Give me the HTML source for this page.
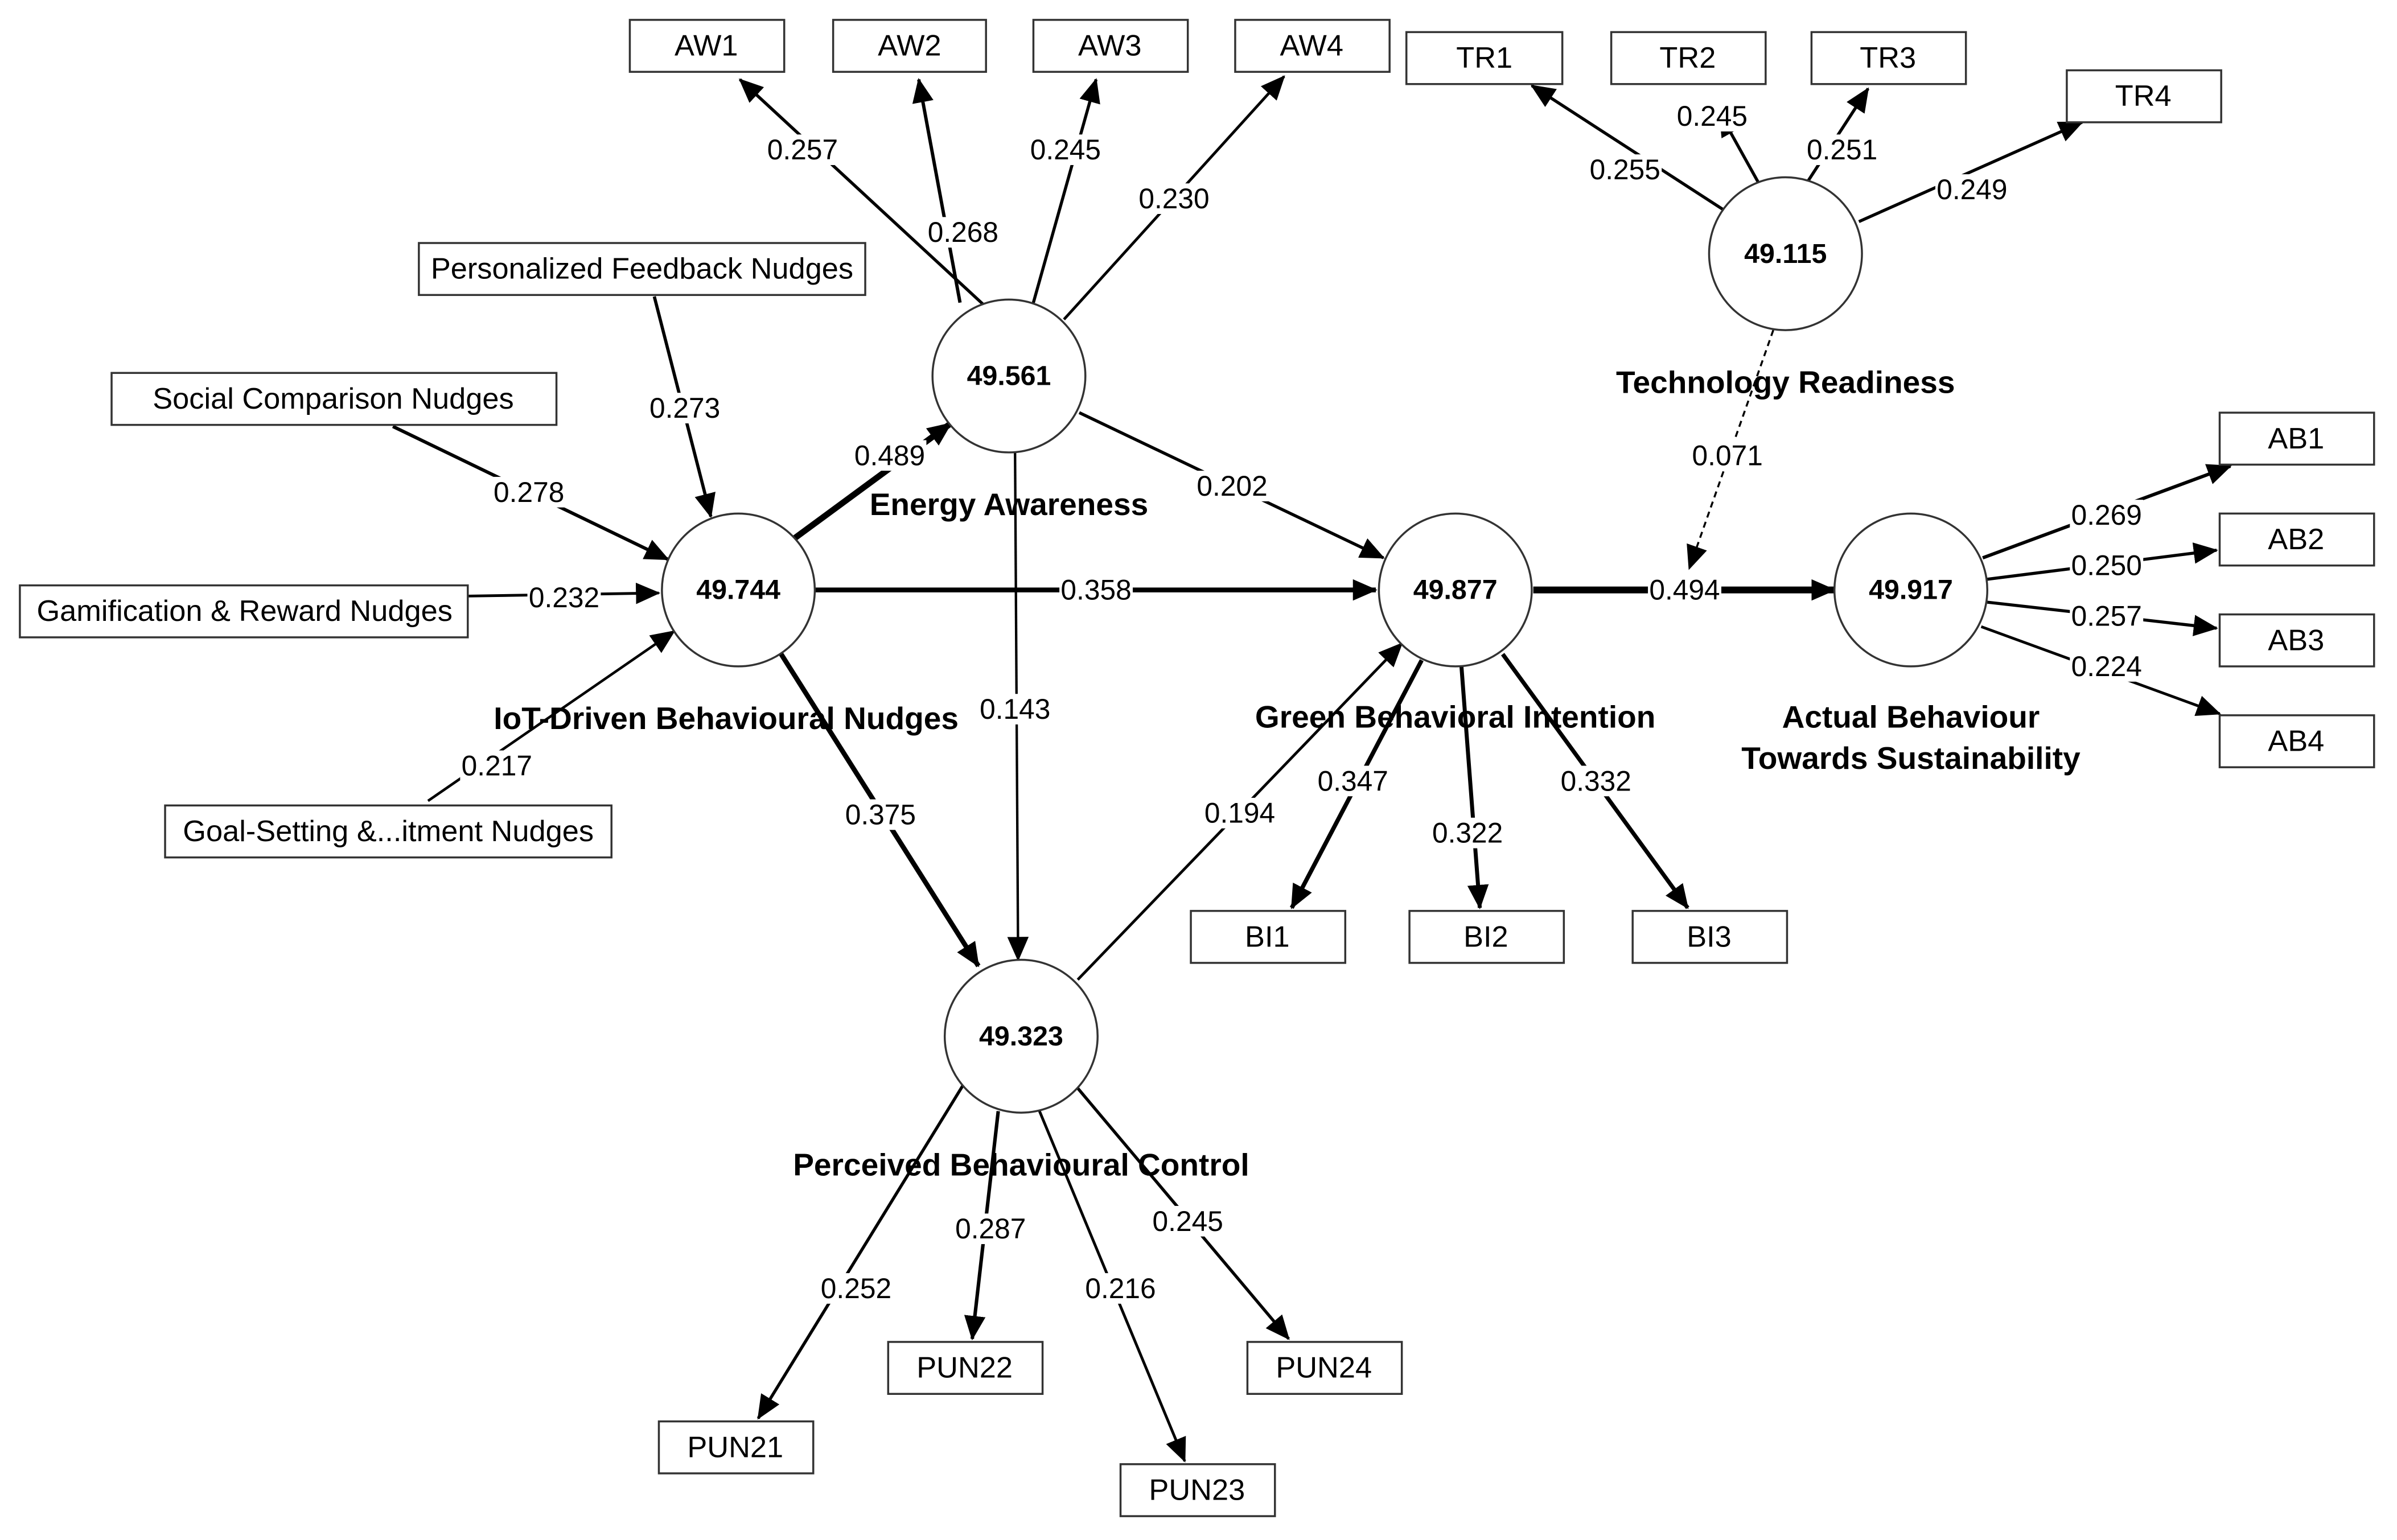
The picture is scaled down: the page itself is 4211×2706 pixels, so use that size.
<!DOCTYPE html>
<html><head><meta charset="utf-8"><style>
html,body{margin:0;padding:0;background:#fff;}
svg{display:block;}
text{font-family:"Liberation Sans","DejaVu Sans",sans-serif;fill:#000;}
.box{fill:#fff;stroke:#333;stroke-width:1.3;}
.c{fill:#fff;stroke:#333;stroke-width:1.3;}
.bt{font-size:19.5px;text-anchor:middle;dominant-baseline:central;}
.lbl{font-size:18.5px;text-anchor:middle;dominant-baseline:central;}
.v{font-size:18px;font-weight:bold;text-anchor:middle;dominant-baseline:central;}
.cn{font-size:20.5px;font-weight:bold;text-anchor:middle;dominant-baseline:central;}
line{stroke:#000;}
.bg rect{fill:#fff;}
</style></head><body>
<svg width="4211" height="2706" viewBox="0 0 1568 1007.6" xmlns="http://www.w3.org/2000/svg">
<defs>
<marker id="a" markerUnits="userSpaceOnUse" markerWidth="16" markerHeight="14" refX="15" refY="7" orient="auto"><path d="M0,0 L16,7 L0,14 z" fill="#000"/></marker>
</defs>
<g marker-end="url(#a)">
<line x1="643" y1="199" x2="484" y2="52" stroke-width="2"/>
<line x1="628" y1="198" x2="601" y2="52" stroke-width="2.2"/>
<line x1="676" y1="198" x2="717" y2="52" stroke-width="2"/>
<line x1="696" y1="209" x2="840" y2="50" stroke-width="1.8"/>
<line x1="1127" y1="137" x2="1002" y2="56" stroke-width="2"/>
<line x1="1150" y1="119" x2="1125" y2="74" stroke-width="2"/>
<line x1="1183" y1="118" x2="1222" y2="58" stroke-width="2"/>
<line x1="1216" y1="145" x2="1362" y2="80" stroke-width="2"/>
<line x1="428" y1="194" x2="465" y2="338" stroke-width="2.1"/>
<line x1="257" y1="279" x2="437" y2="366" stroke-width="2.2"/>
<line x1="306" y1="390" x2="431" y2="388" stroke-width="1.8"/>
<line x1="280" y1="524" x2="441" y2="413" stroke-width="1.7"/>
<line x1="520" y1="352" x2="622" y2="277" stroke-width="4"/>
<line x1="706" y1="270" x2="905" y2="365" stroke-width="2"/>
<line x1="533" y1="386" x2="900" y2="386" stroke-width="3.2"/>
<line x1="664" y1="296" x2="666" y2="628" stroke-width="1.6"/>
<line x1="511" y1="428" x2="640" y2="632" stroke-width="3.2"/>
<line x1="705" y1="641" x2="917" y2="421" stroke-width="1.8"/>
<line x1="1003" y1="386" x2="1200" y2="386" stroke-width="4.5"/>
<line x1="1160" y1="216" x2="1105" y2="372" stroke-width="1.3" stroke-dasharray="4,3"/>
<line x1="1297" y1="365" x2="1459" y2="305" stroke-width="2.2"/>
<line x1="1300" y1="379" x2="1450" y2="360" stroke-width="2"/>
<line x1="1300" y1="394" x2="1450" y2="411" stroke-width="2"/>
<line x1="1296" y1="410" x2="1452" y2="467" stroke-width="1.8"/>
<line x1="930" y1="432" x2="845" y2="594" stroke-width="2.8"/>
<line x1="956" y1="436" x2="968" y2="594" stroke-width="2.6"/>
<line x1="983" y1="428" x2="1104" y2="594" stroke-width="2.7"/>
<line x1="630" y1="710" x2="496" y2="928" stroke-width="2"/>
<line x1="653" y1="727" x2="636" y2="876" stroke-width="2.3"/>
<line x1="680" y1="727" x2="775" y2="956" stroke-width="1.8"/>
<line x1="705" y1="712" x2="843" y2="876" stroke-width="2"/>
</g>

<g>
<rect class="box" x="412" y="13" width="101" height="34"/><text class="bt" x="462" y="30">AW1</text>
<rect class="box" x="545" y="13" width="100" height="34"/><text class="bt" x="595" y="30">AW2</text>
<rect class="box" x="676" y="13" width="101" height="34"/><text class="bt" x="726" y="30">AW3</text>
<rect class="box" x="808" y="13" width="101" height="34"/><text class="bt" x="858" y="30">AW4</text>
<rect class="box" x="920" y="21" width="102" height="34"/><text class="bt" x="971" y="38">TR1</text>
<rect class="box" x="1054" y="21" width="101" height="34"/><text class="bt" x="1104" y="38">TR2</text>
<rect class="box" x="1185" y="21" width="101" height="34"/><text class="bt" x="1235" y="38">TR3</text>
<rect class="box" x="1352" y="46" width="101" height="34"/><text class="bt" x="1402" y="63">TR4</text>
<rect class="box" x="274" y="159" width="292" height="34"/><text class="bt" x="420" y="176">Personalized Feedback Nudges</text>
<rect class="box" x="73" y="244" width="291" height="34"/><text class="bt" x="218" y="261">Social Comparison Nudges</text>
<rect class="box" x="13" y="383" width="293" height="34"/><text class="bt" x="160" y="400">Gamification &amp; Reward Nudges</text>
<rect class="box" x="108" y="527" width="292" height="34"/><text class="bt" x="254" y="544">Goal-Setting &amp;...itment Nudges</text>
<rect class="box" x="1452" y="270" width="101" height="34"/><text class="bt" x="1502" y="287">AB1</text>
<rect class="box" x="1452" y="336" width="101" height="34"/><text class="bt" x="1502" y="353">AB2</text>
<rect class="box" x="1452" y="402" width="101" height="34"/><text class="bt" x="1502" y="419">AB3</text>
<rect class="box" x="1452" y="468" width="101" height="34"/><text class="bt" x="1502" y="485">AB4</text>
<rect class="box" x="779" y="596" width="101" height="34"/><text class="bt" x="829" y="613">BI1</text>
<rect class="box" x="922" y="596" width="101" height="34"/><text class="bt" x="972" y="613">BI2</text>
<rect class="box" x="1068" y="596" width="101" height="34"/><text class="bt" x="1118" y="613">BI3</text>
<rect class="box" x="431" y="930" width="101" height="34"/><text class="bt" x="481" y="947">PUN21</text>
<rect class="box" x="581" y="878" width="101" height="34"/><text class="bt" x="631" y="895">PUN22</text>
<rect class="box" x="733" y="958" width="101" height="34"/><text class="bt" x="783" y="975">PUN23</text>
<rect class="box" x="816" y="878" width="101" height="34"/><text class="bt" x="866" y="895">PUN24</text>
</g>

<circle class="c" cx="660" cy="246" r="50"/><text class="v" x="660" y="246">49.561</text>
<circle class="c" cx="483" cy="386" r="50"/><text class="v" x="483" y="386">49.744</text>
<circle class="c" cx="952" cy="386" r="50"/><text class="v" x="952" y="386">49.877</text>
<circle class="c" cx="1250" cy="386" r="50"/><text class="v" x="1250" y="386">49.917</text>
<circle class="c" cx="1168" cy="166" r="50"/><text class="v" x="1168" y="166">49.115</text>
<circle class="c" cx="668" cy="678" r="50"/><text class="v" x="668" y="678">49.323</text>

<text class="cn" x="660" y="330">Energy Awareness</text>
<svg x="300" y="450" width="340" height="40" overflow="hidden"><text class="cn" x="175" y="20">IoT-Driven Behavioural Nudges</text></svg>
<text class="cn" x="952" y="469">Green Behavioral Intention</text>
<text class="cn" x="1250" y="469">Actual Behaviour</text>
<text class="cn" x="1250" y="496">Towards Sustainability</text>
<text class="cn" x="1168" y="250">Technology Readiness</text>
<text class="cn" x="668" y="762">Perceived Behavioural Control</text>

<g class="bg">
<rect x="501" y="88" width="48" height="20"/>
<rect x="606" y="142" width="48" height="20"/>
<rect x="673" y="88" width="48" height="20"/>
<rect x="744" y="120" width="48" height="20"/>
<rect x="1039" y="101" width="48" height="20"/>
<rect x="1096" y="66" width="48" height="20"/>
<rect x="1181" y="88" width="48" height="20"/>
<rect x="1266" y="114" width="48" height="20"/>
<rect x="424" y="257" width="48" height="20"/>
<rect x="322" y="312" width="48" height="20"/>
<rect x="345" y="381" width="48" height="20"/>
<rect x="301" y="491" width="48" height="20"/>
<rect x="558" y="288" width="48" height="20"/>
<rect x="782" y="308" width="48" height="20"/>
<rect x="693" y="376" width="48" height="20"/>
<rect x="640" y="454" width="48" height="20"/>
<rect x="552" y="523" width="48" height="20"/>
<rect x="787" y="522" width="48" height="20"/>
<rect x="1078" y="376" width="48" height="20"/>
<rect x="1106" y="288" width="48" height="20"/>
<rect x="1354" y="327" width="48" height="20"/>
<rect x="1354" y="360" width="48" height="20"/>
<rect x="1354" y="393" width="48" height="20"/>
<rect x="1354" y="426" width="48" height="20"/>
<rect x="861" y="501" width="48" height="20"/>
<rect x="936" y="535" width="48" height="20"/>
<rect x="1020" y="501" width="48" height="20"/>
<rect x="536" y="833" width="48" height="20"/>
<rect x="624" y="794" width="48" height="20"/>
<rect x="709" y="833" width="48" height="20"/>
<rect x="753" y="789" width="48" height="20"/>
</g>
<g>
<text class="lbl" x="525" y="98">0.257</text>
<text class="lbl" x="630" y="152">0.268</text>
<text class="lbl" x="697" y="98">0.245</text>
<text class="lbl" x="768" y="130">0.230</text>
<text class="lbl" x="1063" y="111">0.255</text>
<text class="lbl" x="1120" y="76">0.245</text>
<text class="lbl" x="1205" y="98">0.251</text>
<text class="lbl" x="1290" y="124">0.249</text>
<text class="lbl" x="448" y="267">0.273</text>
<text class="lbl" x="346" y="322">0.278</text>
<text class="lbl" x="369" y="391">0.232</text>
<text class="lbl" x="325" y="501">0.217</text>
<text class="lbl" x="582" y="298">0.489</text>
<text class="lbl" x="806" y="318">0.202</text>
<text class="lbl" x="717" y="386">0.358</text>
<text class="lbl" x="664" y="464">0.143</text>
<text class="lbl" x="576" y="533">0.375</text>
<text class="lbl" x="811" y="532">0.194</text>
<text class="lbl" x="1102" y="386">0.494</text>
<text class="lbl" x="1130" y="298">0.071</text>
<text class="lbl" x="1378" y="337">0.269</text>
<text class="lbl" x="1378" y="370">0.250</text>
<text class="lbl" x="1378" y="403">0.257</text>
<text class="lbl" x="1378" y="436">0.224</text>
<text class="lbl" x="885" y="511">0.347</text>
<text class="lbl" x="960" y="545">0.322</text>
<text class="lbl" x="1044" y="511">0.332</text>
<text class="lbl" x="560" y="843">0.252</text>
<text class="lbl" x="648" y="804">0.287</text>
<text class="lbl" x="733" y="843">0.216</text>
<text class="lbl" x="777" y="799">0.245</text>
</g>
</svg>
</body></html>
